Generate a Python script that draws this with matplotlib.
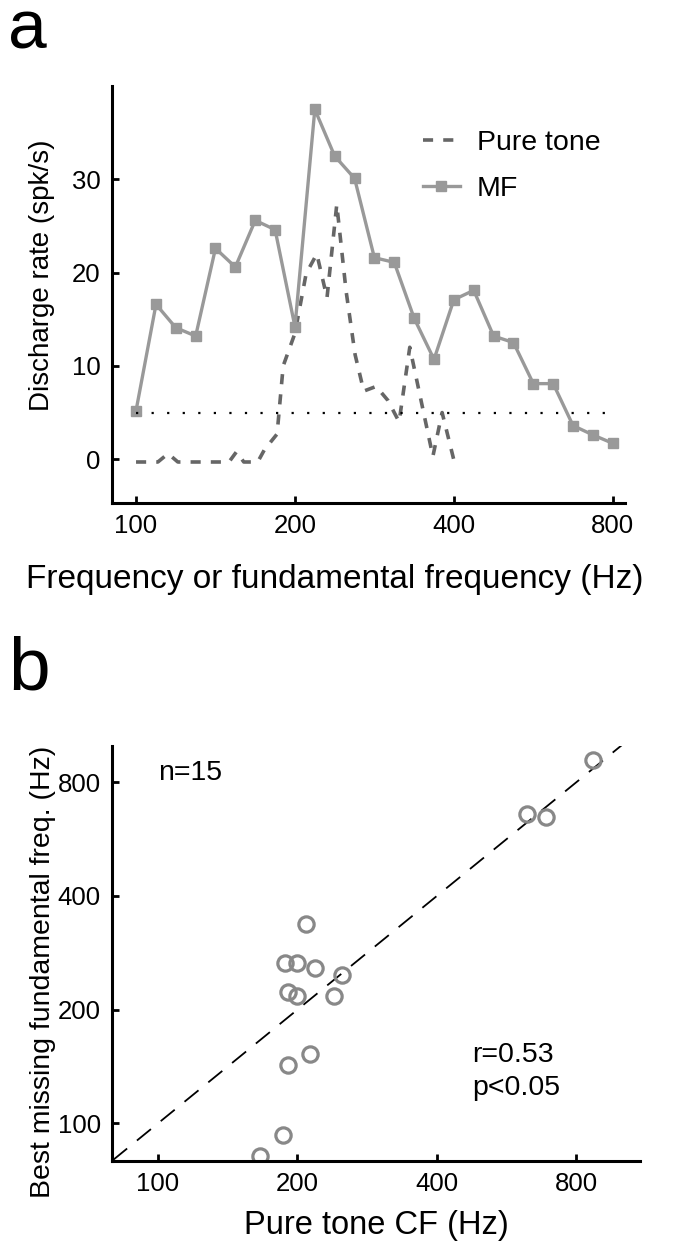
import numpy as np
import matplotlib
matplotlib.use("Agg")
from matplotlib import pyplot as plt
from matplotlib.ticker import FixedLocator, NullLocator

plt.rcParams['font.family'] = ['Liberation Sans', 'DejaVu Sans']

# panel a: MF responses (1/8 octave steps) and pure tone responses
mf_freq = [100, 109.1, 118.9, 129.7, 141.4, 154.2, 168.2, 183.4, 200, 218.1, 237.8, 259.4,
           282.8, 308.4, 336.4, 366.8, 400, 436.2, 475.7, 518.8, 565.7, 616.9, 672.7, 733.6, 800]
mf_rate = [5.2, 16.6, 14.1, 13.2, 22.6, 20.6, 25.6, 24.6, 14.2, 37.5, 32.5, 30.1,
           21.6, 21.1, 15.1, 10.7, 17.1, 18.1, 13.2, 12.5, 8.1, 8.1, 3.6, 2.6, 1.7]

tone_freq = [100, 110, 115, 120, 150, 155, 160, 170, 175, 185, 190, 200, 210, 220, 230,
             240, 250, 260, 270, 285, 300, 315, 330, 365, 380, 400]
tone_rate = [-0.3, -0.3, 0.6, -0.3, -0.3, 0.8, -0.3, -0.3, 1.0, 2.7, 10.0, 13.5, 19.9, 22.0, 17.3,
             27.3, 18.0, 11.2, 7.3, 7.8, 6.3, 4.0, 12.0, 0.3, 5.0, -0.1]

spont_freq = [100, 800]
spont_rate = [5, 5]

# panel b: best pure tone CF vs best missing fundamental frequency
cf = [868, 625, 687, 209, 188, 200, 218, 249, 191, 200, 240, 213, 191, 186, 166]
best_f0 = [916, 660, 649, 338, 266, 266, 258, 247, 223, 218, 217, 153, 143, 93, 82]

freq_ticks = [100, 200, 400, 800]
rate_ticks = [0, 10, 20, 30]

fig = plt.figure(figsize=(6.74, 12.47), dpi=100)

def style_axes(ax):
    for side in ['top', 'right']:
        ax.spines[side].set_visible(False)
    for side in ['left', 'bottom']:
        ax.spines[side].set_linewidth(2.2)
    ax.tick_params(direction='in', length=5, width=2, labelsize=18.5, pad=8)

# ---- panel a ----
axA = fig.add_axes([0.166, 0.5966, 0.761, 0.3344])
axA.plot(tone_freq, tone_rate, color='#666666', lw=2.6, dashes=(2.8, 2.8), label='Pure tone')
axA.plot(mf_freq, mf_rate, color='#999999', lw=2.4, marker='s', ms=6.5, label='MF')
axA.plot(spont_freq, spont_rate, color='black', lw=1.6, dashes=(1, 6))
axA.set_xscale('log', base=2)
axA.set_xlim(90, 843)
axA.set_ylim(-4.7, 40)
axA.xaxis.set_major_locator(FixedLocator(freq_ticks))
axA.xaxis.set_minor_locator(NullLocator())
axA.set_xticklabels([str(t) for t in freq_ticks])
axA.set_yticks(rate_ticks)
style_axes(axA)
axA.set_xlabel('Frequency or fundamental frequency (Hz)', fontsize=24)
axA.xaxis.set_label_coords(0.435, -0.146)
axA.set_ylabel('Discharge rate (spk/s)', fontsize=20)
axA.yaxis.set_label_coords(-0.11, 0.547)
axA.legend(loc='upper left', bbox_to_anchor=(0.606, 0.895), frameon=False, fontsize=20.5,
           handlelength=1.3, handletextpad=0.6, labelspacing=0.7, borderaxespad=0, borderpad=0)

fig.text(0.012, 0.9615, 'a', fontsize=50, va='baseline')

# ---- panel b ----
axB = fig.add_axes([0.166, 0.069, 0.784, 0.333])
axB.plot([80, 1100], [80, 1100], color='black', lw=1.3, dashes=(10, 7))
axB.plot(cf, best_f0, linestyle='none', marker='o', ms=11, mfc='none', mec='#888888', mew=2.3)
axB.set_xscale('log', base=2)
axB.set_yscale('log', base=2)
axB.set_xlim(79.5, 1100)
axB.set_ylim(79.5, 1000)
for axis in [axB.xaxis, axB.yaxis]:
    axis.set_major_locator(FixedLocator(freq_ticks))
    axis.set_minor_locator(NullLocator())
axB.set_xticklabels([str(t) for t in freq_ticks])
axB.set_yticklabels([str(t) for t in freq_ticks])
style_axes(axB)
axB.set_xlabel('Pure tone CF (Hz)', fontsize=23.5, labelpad=10)
axB.set_ylabel('Best missing fundamental freq. (Hz)', fontsize=20.5)
axB.yaxis.set_label_coords(-0.105, 0.455)
axB.text(0.087, 0.935, 'n=15', transform=axB.transAxes, fontsize=20.5, va='center')
axB.text(0.682, 0.255, 'r=0.53', transform=axB.transAxes, fontsize=20.5, va='center')
axB.text(0.682, 0.176, 'p<0.05', transform=axB.transAxes, fontsize=20.5, va='center')

fig.text(0.012, 0.4467, 'b', fontsize=54, va='baseline')

fig.savefig('out.png', dpi=100)
